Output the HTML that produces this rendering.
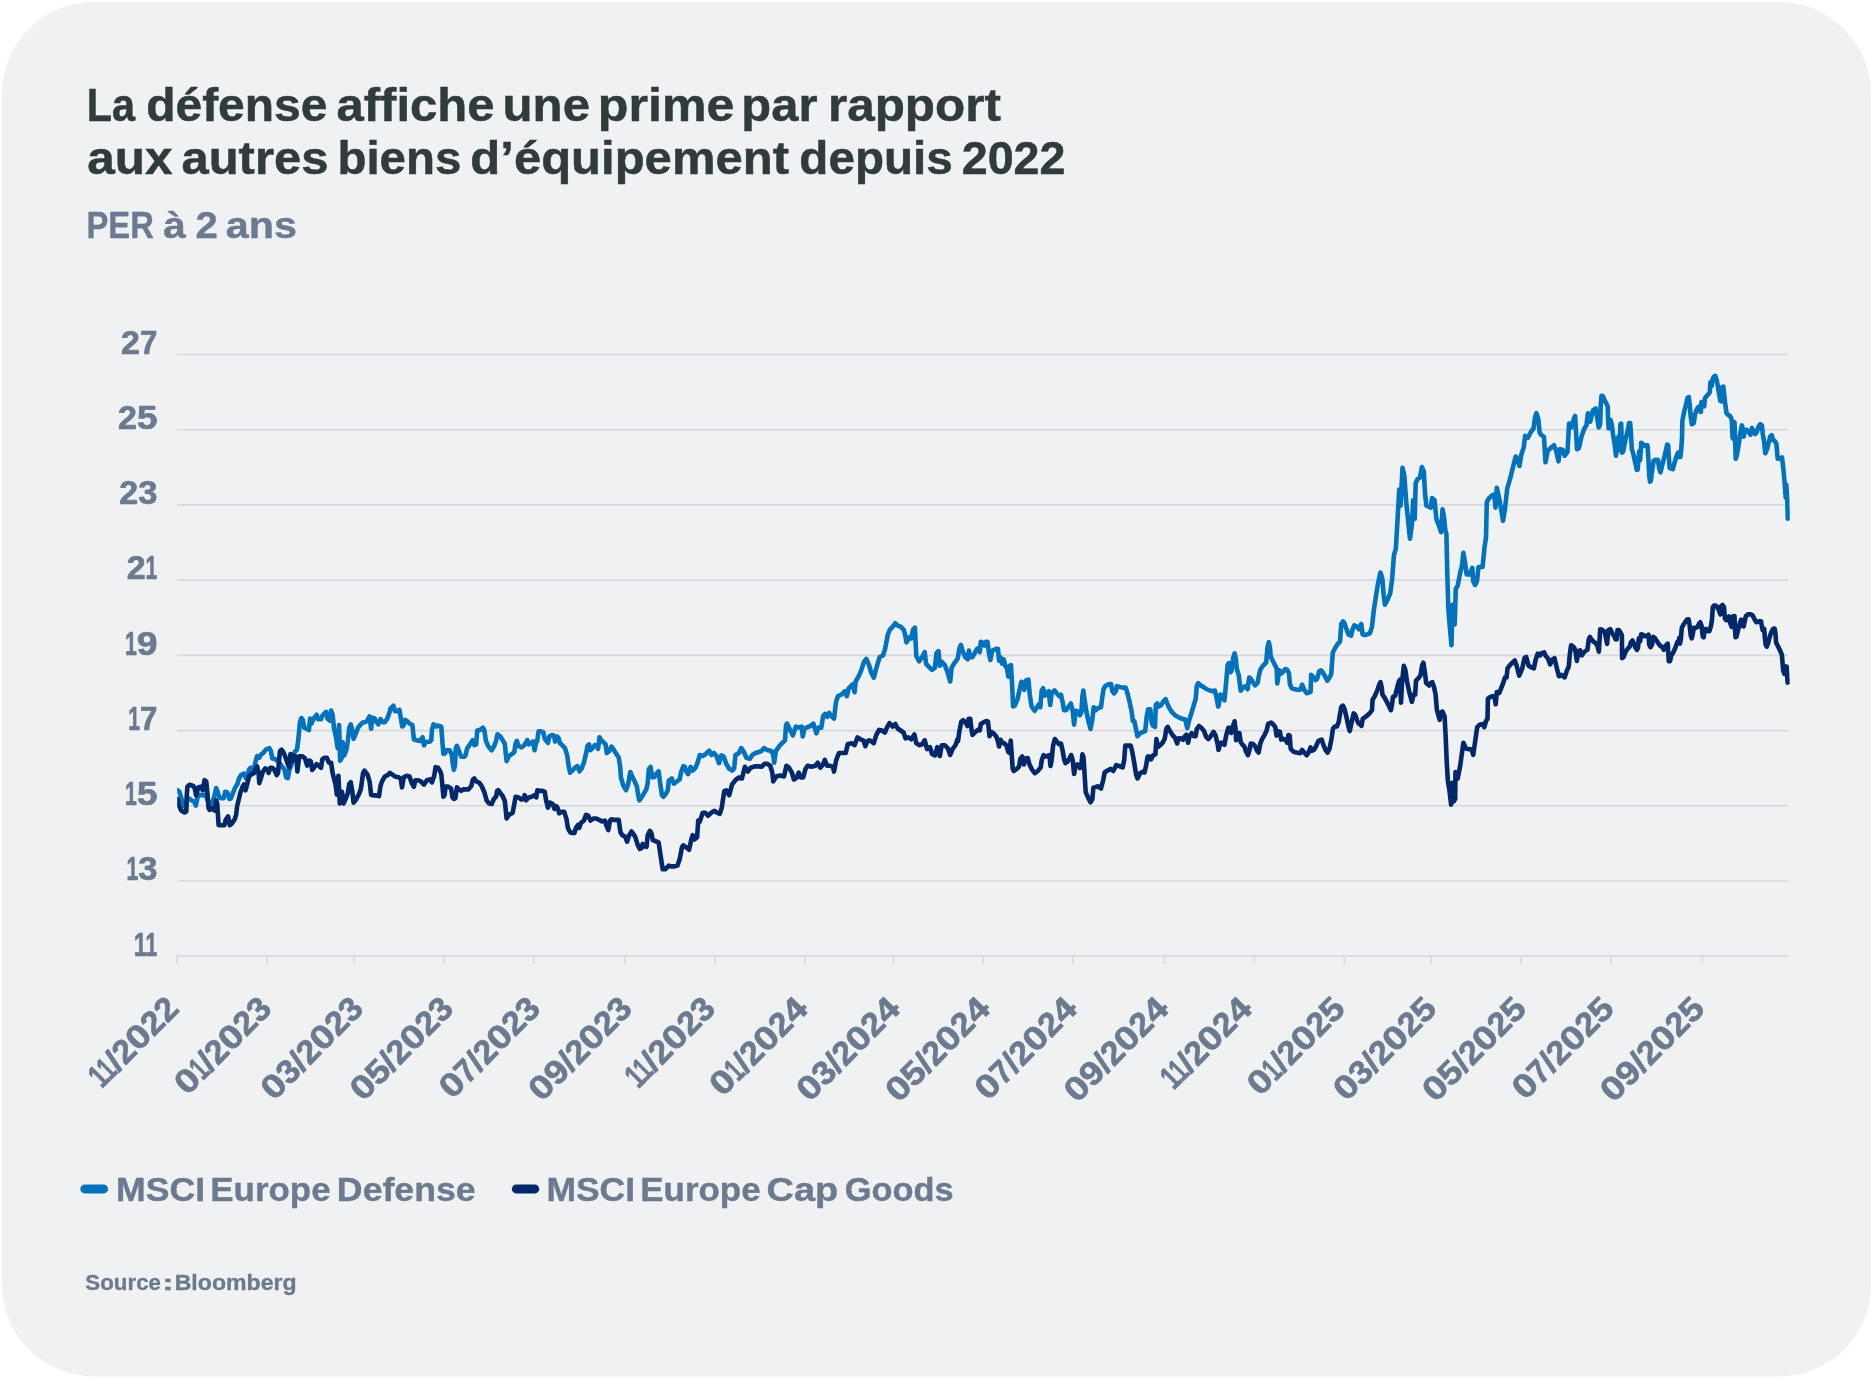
<!DOCTYPE html>
<html lang="fr"><head><meta charset="utf-8"><title>La défense affiche une prime</title>
<style>
html,body{margin:0;padding:0;background:#fff;}
body{width:1871px;height:1378px;overflow:hidden;font-family:"Liberation Sans",sans-serif;}
svg{display:block;will-change:transform;}
text{font-family:"Liberation Sans",sans-serif;font-weight:bold;}
</style></head><body>
<svg width="1871" height="1378" viewBox="0 0 1871 1378">
<rect x="2" y="2" width="1869" height="1374.6" rx="92" ry="92" fill="#f0f1f3"/>
<g fill="#2f3b3c" stroke="#2f3b3c" stroke-width="0.5">
<text y="121.4" font-size="47" ><tspan x="86.67" textLength="48.32" lengthAdjust="spacingAndGlyphs">La</tspan> <tspan x="146.16" textLength="181.30" lengthAdjust="spacingAndGlyphs">défense</tspan> <tspan x="336.54" textLength="158.01" lengthAdjust="spacingAndGlyphs">affiche</tspan> <tspan x="502.56" textLength="87.47" lengthAdjust="spacingAndGlyphs">une</tspan> <tspan x="597.89" textLength="136.50" lengthAdjust="spacingAndGlyphs">prime</tspan> <tspan x="741.37" textLength="76.09" lengthAdjust="spacingAndGlyphs">par</tspan> <tspan x="827.94" textLength="172.89" lengthAdjust="spacingAndGlyphs">rapport</tspan></text>
<text y="174.4" font-size="47" ><tspan x="87.23" textLength="85.38" lengthAdjust="spacingAndGlyphs">aux</tspan> <tspan x="181.55" textLength="146.80" lengthAdjust="spacingAndGlyphs">autres</tspan> <tspan x="337.47" textLength="123.90" lengthAdjust="spacingAndGlyphs">biens</tspan> <tspan x="470.32" textLength="318.73" lengthAdjust="spacingAndGlyphs">d’équipement</tspan> <tspan x="799.38" textLength="153.31" lengthAdjust="spacingAndGlyphs">depuis</tspan> <tspan x="961.71" textLength="103.83" lengthAdjust="spacingAndGlyphs">2022</tspan></text>
</g>
<text y="237.5" font-size="36" fill="#6b7a8e" stroke="#6b7a8e" stroke-width="0.4"><tspan x="86.52" textLength="67.34" lengthAdjust="spacingAndGlyphs">PER</tspan> <tspan x="163.38" textLength="22.62" lengthAdjust="spacingAndGlyphs">à</tspan> <tspan x="195.56" textLength="22.32" lengthAdjust="spacingAndGlyphs">2</tspan> <tspan x="225.85" textLength="71.19" lengthAdjust="spacingAndGlyphs">ans</tspan></text>
<g stroke="#d7d8db" stroke-width="1.6" fill="none">
<path d="M177.2 354.5H1788.0"/>
<path d="M177.2 429.7H1788.0"/>
<path d="M177.2 504.9H1788.0"/>
<path d="M177.2 580.1H1788.0"/>
<path d="M177.2 655.4H1788.0"/>
<path d="M177.2 730.6H1788.0"/>
<path d="M177.2 805.8H1788.0"/>
<path d="M177.2 881.0H1788.0"/>
<path d="M176.4 956.3H1788.0"/>
<path d="M177.2 956.3V963.8"/>
<path d="M267.1 956.3V963.8"/>
<path d="M354.0 956.3V963.8"/>
<path d="M443.9 956.3V963.8"/>
<path d="M533.8 956.3V963.8"/>
<path d="M625.1 956.3V963.8"/>
<path d="M715.0 956.3V963.8"/>
<path d="M804.9 956.3V963.8"/>
<path d="M893.3 956.3V963.8"/>
<path d="M983.2 956.3V963.8"/>
<path d="M1073.1 956.3V963.8"/>
<path d="M1164.4 956.3V963.8"/>
<path d="M1254.3 956.3V963.8"/>
<path d="M1344.2 956.3V963.8"/>
<path d="M1431.1 956.3V963.8"/>
<path d="M1521.0 956.3V963.8"/>
<path d="M1610.9 956.3V963.8"/>
<path d="M1702.3 956.3V963.8"/>
</g>
<g fill="#6b7a8e" stroke="#6b7a8e" stroke-width="0.7" stroke-linejoin="round" font-size="33" text-anchor="end">
<text x="157.4" y="353.7"><tspan textLength="18.9" lengthAdjust="spacingAndGlyphs">2</tspan><tspan textLength="17.4" lengthAdjust="spacingAndGlyphs">7</tspan></text>
<text x="157.4" y="428.9"><tspan textLength="18.9" lengthAdjust="spacingAndGlyphs">2</tspan><tspan textLength="20.5" lengthAdjust="spacingAndGlyphs">5</tspan></text>
<text x="157.4" y="504.1"><tspan textLength="18.9" lengthAdjust="spacingAndGlyphs">2</tspan><tspan textLength="19.2" lengthAdjust="spacingAndGlyphs">3</tspan></text>
<text x="157.4" y="579.3"><tspan textLength="18.9" lengthAdjust="spacingAndGlyphs">2</tspan><tspan textLength="11.8" lengthAdjust="spacingAndGlyphs">1</tspan></text>
<text x="157.4" y="654.6"><tspan textLength="11.8" lengthAdjust="spacingAndGlyphs">1</tspan><tspan textLength="20.7" lengthAdjust="spacingAndGlyphs">9</tspan></text>
<text x="157.4" y="729.8"><tspan textLength="11.8" lengthAdjust="spacingAndGlyphs">1</tspan><tspan textLength="17.4" lengthAdjust="spacingAndGlyphs">7</tspan></text>
<text x="157.4" y="805.0"><tspan textLength="11.8" lengthAdjust="spacingAndGlyphs">1</tspan><tspan textLength="20.5" lengthAdjust="spacingAndGlyphs">5</tspan></text>
<text x="157.4" y="880.2"><tspan textLength="11.8" lengthAdjust="spacingAndGlyphs">1</tspan><tspan textLength="19.2" lengthAdjust="spacingAndGlyphs">3</tspan></text>
<text x="157.4" y="955.5"><tspan textLength="11.8" lengthAdjust="spacingAndGlyphs">1</tspan><tspan textLength="11.8" lengthAdjust="spacingAndGlyphs">1</tspan></text>
</g>
<g fill="#6b7a8e" stroke="#6b7a8e" stroke-width="0.7" stroke-linejoin="round" font-size="33" text-anchor="end">
<text transform="translate(180.5 1010.4) rotate(-45)" x="0" y="0"><tspan textLength="11.8" lengthAdjust="spacingAndGlyphs">1</tspan><tspan textLength="11.8" lengthAdjust="spacingAndGlyphs">1</tspan><tspan textLength="9.5" lengthAdjust="spacingAndGlyphs">/</tspan><tspan textLength="18.9" lengthAdjust="spacingAndGlyphs">2</tspan><tspan textLength="21.5" lengthAdjust="spacingAndGlyphs">0</tspan><tspan textLength="18.9" lengthAdjust="spacingAndGlyphs">2</tspan><tspan textLength="18.9" lengthAdjust="spacingAndGlyphs">2</tspan></text>
<text transform="translate(273.3 1010.4) rotate(-45)" x="0" y="0"><tspan textLength="21.5" lengthAdjust="spacingAndGlyphs">0</tspan><tspan textLength="11.8" lengthAdjust="spacingAndGlyphs">1</tspan><tspan textLength="9.5" lengthAdjust="spacingAndGlyphs">/</tspan><tspan textLength="18.9" lengthAdjust="spacingAndGlyphs">2</tspan><tspan textLength="21.5" lengthAdjust="spacingAndGlyphs">0</tspan><tspan textLength="18.9" lengthAdjust="spacingAndGlyphs">2</tspan><tspan textLength="19.2" lengthAdjust="spacingAndGlyphs">3</tspan></text>
<text transform="translate(365.0 1010.4) rotate(-45)" x="0" y="0"><tspan textLength="21.5" lengthAdjust="spacingAndGlyphs">0</tspan><tspan textLength="19.2" lengthAdjust="spacingAndGlyphs">3</tspan><tspan textLength="9.5" lengthAdjust="spacingAndGlyphs">/</tspan><tspan textLength="18.9" lengthAdjust="spacingAndGlyphs">2</tspan><tspan textLength="21.5" lengthAdjust="spacingAndGlyphs">0</tspan><tspan textLength="18.9" lengthAdjust="spacingAndGlyphs">2</tspan><tspan textLength="19.2" lengthAdjust="spacingAndGlyphs">3</tspan></text>
<text transform="translate(455.1 1010.4) rotate(-45)" x="0" y="0"><tspan textLength="21.5" lengthAdjust="spacingAndGlyphs">0</tspan><tspan textLength="20.5" lengthAdjust="spacingAndGlyphs">5</tspan><tspan textLength="9.5" lengthAdjust="spacingAndGlyphs">/</tspan><tspan textLength="18.9" lengthAdjust="spacingAndGlyphs">2</tspan><tspan textLength="21.5" lengthAdjust="spacingAndGlyphs">0</tspan><tspan textLength="18.9" lengthAdjust="spacingAndGlyphs">2</tspan><tspan textLength="19.2" lengthAdjust="spacingAndGlyphs">3</tspan></text>
<text transform="translate(542.0 1010.4) rotate(-45)" x="0" y="0"><tspan textLength="21.5" lengthAdjust="spacingAndGlyphs">0</tspan><tspan textLength="17.4" lengthAdjust="spacingAndGlyphs">7</tspan><tspan textLength="9.5" lengthAdjust="spacingAndGlyphs">/</tspan><tspan textLength="18.9" lengthAdjust="spacingAndGlyphs">2</tspan><tspan textLength="21.5" lengthAdjust="spacingAndGlyphs">0</tspan><tspan textLength="18.9" lengthAdjust="spacingAndGlyphs">2</tspan><tspan textLength="19.2" lengthAdjust="spacingAndGlyphs">3</tspan></text>
<text transform="translate(633.9 1010.4) rotate(-45)" x="0" y="0"><tspan textLength="21.5" lengthAdjust="spacingAndGlyphs">0</tspan><tspan textLength="20.7" lengthAdjust="spacingAndGlyphs">9</tspan><tspan textLength="9.5" lengthAdjust="spacingAndGlyphs">/</tspan><tspan textLength="18.9" lengthAdjust="spacingAndGlyphs">2</tspan><tspan textLength="21.5" lengthAdjust="spacingAndGlyphs">0</tspan><tspan textLength="18.9" lengthAdjust="spacingAndGlyphs">2</tspan><tspan textLength="19.2" lengthAdjust="spacingAndGlyphs">3</tspan></text>
<text transform="translate(717.1 1010.4) rotate(-45)" x="0" y="0"><tspan textLength="11.8" lengthAdjust="spacingAndGlyphs">1</tspan><tspan textLength="11.8" lengthAdjust="spacingAndGlyphs">1</tspan><tspan textLength="9.5" lengthAdjust="spacingAndGlyphs">/</tspan><tspan textLength="18.9" lengthAdjust="spacingAndGlyphs">2</tspan><tspan textLength="21.5" lengthAdjust="spacingAndGlyphs">0</tspan><tspan textLength="18.9" lengthAdjust="spacingAndGlyphs">2</tspan><tspan textLength="19.2" lengthAdjust="spacingAndGlyphs">3</tspan></text>
<text transform="translate(809.9 1010.4) rotate(-45)" x="0" y="0"><tspan textLength="21.5" lengthAdjust="spacingAndGlyphs">0</tspan><tspan textLength="11.8" lengthAdjust="spacingAndGlyphs">1</tspan><tspan textLength="9.5" lengthAdjust="spacingAndGlyphs">/</tspan><tspan textLength="18.9" lengthAdjust="spacingAndGlyphs">2</tspan><tspan textLength="21.5" lengthAdjust="spacingAndGlyphs">0</tspan><tspan textLength="18.9" lengthAdjust="spacingAndGlyphs">2</tspan><tspan textLength="21.0" lengthAdjust="spacingAndGlyphs">4</tspan></text>
<text transform="translate(902.1 1010.4) rotate(-45)" x="0" y="0"><tspan textLength="21.5" lengthAdjust="spacingAndGlyphs">0</tspan><tspan textLength="19.2" lengthAdjust="spacingAndGlyphs">3</tspan><tspan textLength="9.5" lengthAdjust="spacingAndGlyphs">/</tspan><tspan textLength="18.9" lengthAdjust="spacingAndGlyphs">2</tspan><tspan textLength="21.5" lengthAdjust="spacingAndGlyphs">0</tspan><tspan textLength="18.9" lengthAdjust="spacingAndGlyphs">2</tspan><tspan textLength="21.0" lengthAdjust="spacingAndGlyphs">4</tspan></text>
<text transform="translate(992.0 1010.4) rotate(-45)" x="0" y="0"><tspan textLength="21.5" lengthAdjust="spacingAndGlyphs">0</tspan><tspan textLength="20.5" lengthAdjust="spacingAndGlyphs">5</tspan><tspan textLength="9.5" lengthAdjust="spacingAndGlyphs">/</tspan><tspan textLength="18.9" lengthAdjust="spacingAndGlyphs">2</tspan><tspan textLength="21.5" lengthAdjust="spacingAndGlyphs">0</tspan><tspan textLength="18.9" lengthAdjust="spacingAndGlyphs">2</tspan><tspan textLength="21.0" lengthAdjust="spacingAndGlyphs">4</tspan></text>
<text transform="translate(1079.1 1010.4) rotate(-45)" x="0" y="0"><tspan textLength="21.5" lengthAdjust="spacingAndGlyphs">0</tspan><tspan textLength="17.4" lengthAdjust="spacingAndGlyphs">7</tspan><tspan textLength="9.5" lengthAdjust="spacingAndGlyphs">/</tspan><tspan textLength="18.9" lengthAdjust="spacingAndGlyphs">2</tspan><tspan textLength="21.5" lengthAdjust="spacingAndGlyphs">0</tspan><tspan textLength="18.9" lengthAdjust="spacingAndGlyphs">2</tspan><tspan textLength="21.0" lengthAdjust="spacingAndGlyphs">4</tspan></text>
<text transform="translate(1170.5 1010.4) rotate(-45)" x="0" y="0"><tspan textLength="21.5" lengthAdjust="spacingAndGlyphs">0</tspan><tspan textLength="20.7" lengthAdjust="spacingAndGlyphs">9</tspan><tspan textLength="9.5" lengthAdjust="spacingAndGlyphs">/</tspan><tspan textLength="18.9" lengthAdjust="spacingAndGlyphs">2</tspan><tspan textLength="21.5" lengthAdjust="spacingAndGlyphs">0</tspan><tspan textLength="18.9" lengthAdjust="spacingAndGlyphs">2</tspan><tspan textLength="21.0" lengthAdjust="spacingAndGlyphs">4</tspan></text>
<text transform="translate(1254.0 1010.4) rotate(-45)" x="0" y="0"><tspan textLength="11.8" lengthAdjust="spacingAndGlyphs">1</tspan><tspan textLength="11.8" lengthAdjust="spacingAndGlyphs">1</tspan><tspan textLength="9.5" lengthAdjust="spacingAndGlyphs">/</tspan><tspan textLength="18.9" lengthAdjust="spacingAndGlyphs">2</tspan><tspan textLength="21.5" lengthAdjust="spacingAndGlyphs">0</tspan><tspan textLength="18.9" lengthAdjust="spacingAndGlyphs">2</tspan><tspan textLength="21.0" lengthAdjust="spacingAndGlyphs">4</tspan></text>
<text transform="translate(1347.0 1010.4) rotate(-45)" x="0" y="0"><tspan textLength="21.5" lengthAdjust="spacingAndGlyphs">0</tspan><tspan textLength="11.8" lengthAdjust="spacingAndGlyphs">1</tspan><tspan textLength="9.5" lengthAdjust="spacingAndGlyphs">/</tspan><tspan textLength="18.9" lengthAdjust="spacingAndGlyphs">2</tspan><tspan textLength="21.5" lengthAdjust="spacingAndGlyphs">0</tspan><tspan textLength="18.9" lengthAdjust="spacingAndGlyphs">2</tspan><tspan textLength="20.5" lengthAdjust="spacingAndGlyphs">5</tspan></text>
<text transform="translate(1438.5 1010.4) rotate(-45)" x="0" y="0"><tspan textLength="21.5" lengthAdjust="spacingAndGlyphs">0</tspan><tspan textLength="19.2" lengthAdjust="spacingAndGlyphs">3</tspan><tspan textLength="9.5" lengthAdjust="spacingAndGlyphs">/</tspan><tspan textLength="18.9" lengthAdjust="spacingAndGlyphs">2</tspan><tspan textLength="21.5" lengthAdjust="spacingAndGlyphs">0</tspan><tspan textLength="18.9" lengthAdjust="spacingAndGlyphs">2</tspan><tspan textLength="20.5" lengthAdjust="spacingAndGlyphs">5</tspan></text>
<text transform="translate(1528.3 1010.4) rotate(-45)" x="0" y="0"><tspan textLength="21.5" lengthAdjust="spacingAndGlyphs">0</tspan><tspan textLength="20.5" lengthAdjust="spacingAndGlyphs">5</tspan><tspan textLength="9.5" lengthAdjust="spacingAndGlyphs">/</tspan><tspan textLength="18.9" lengthAdjust="spacingAndGlyphs">2</tspan><tspan textLength="21.5" lengthAdjust="spacingAndGlyphs">0</tspan><tspan textLength="18.9" lengthAdjust="spacingAndGlyphs">2</tspan><tspan textLength="20.5" lengthAdjust="spacingAndGlyphs">5</tspan></text>
<text transform="translate(1616.0 1010.4) rotate(-45)" x="0" y="0"><tspan textLength="21.5" lengthAdjust="spacingAndGlyphs">0</tspan><tspan textLength="17.4" lengthAdjust="spacingAndGlyphs">7</tspan><tspan textLength="9.5" lengthAdjust="spacingAndGlyphs">/</tspan><tspan textLength="18.9" lengthAdjust="spacingAndGlyphs">2</tspan><tspan textLength="21.5" lengthAdjust="spacingAndGlyphs">0</tspan><tspan textLength="18.9" lengthAdjust="spacingAndGlyphs">2</tspan><tspan textLength="20.5" lengthAdjust="spacingAndGlyphs">5</tspan></text>
<text transform="translate(1706.4 1010.4) rotate(-45)" x="0" y="0"><tspan textLength="21.5" lengthAdjust="spacingAndGlyphs">0</tspan><tspan textLength="20.7" lengthAdjust="spacingAndGlyphs">9</tspan><tspan textLength="9.5" lengthAdjust="spacingAndGlyphs">/</tspan><tspan textLength="18.9" lengthAdjust="spacingAndGlyphs">2</tspan><tspan textLength="21.5" lengthAdjust="spacingAndGlyphs">0</tspan><tspan textLength="18.9" lengthAdjust="spacingAndGlyphs">2</tspan><tspan textLength="20.5" lengthAdjust="spacingAndGlyphs">5</tspan></text>
</g>
<defs><clipPath id="plot"><rect x="177.2" y="330" width="1612.6" height="600"/></clipPath></defs>
<path d="M177.6 790.3 L179.4 791.8 L181.6 799.0 L183.8 806.3 L186.0 806.3 L187.1 799.0 L188.9 798.3 L191.8 800.5 L193.9 801.2 L195.8 805.6 L197.6 797.6 L199.0 794.7 L203.4 795.4 L205.6 794.7 L207.7 800.5 L211.4 803.4 L212.8 801.2 L214.3 796.1 L216.2 788.1 L217.9 792.5 L219.3 797.6 L221.5 798.3 L223.7 798.3 L225.2 791.8 L227.3 792.5 L229.5 799.0 L231.0 798.3 L233.1 792.5 L235.3 787.4 L237.5 783.8 L238.9 778.7 L241.1 775.1 L244.0 773.6 L246.2 778.7 L247.7 775.1 L249.1 769.3 L250.6 767.8 L252.7 770.7 L254.2 767.8 L255.6 761.3 L257.1 756.2 L259.3 757.7 L260.7 754.8 L263.6 752.6 L265.8 749.7 L269.4 748.2 L270.9 751.1 L272.3 758.4 L275.2 759.1 L278.1 761.3 L280.3 764.2 L282.5 767.1 L284.7 770.0 L286.1 777.3 L287.9 778.0 L289.3 770.0 L291.2 765.6 L293.4 756.9 L294.8 751.9 L297.0 749.7 L298.5 738.1 L299.9 722.1 L301.4 718.0 L302.8 719.9 L304.3 727.9 L306.4 728.6 L308.9 730.1 L310.1 718.5 L311.5 723.5 L313.7 718.5 L316.6 714.8 L318.1 719.2 L321.0 719.2 L322.4 715.6 L326.1 711.9 L327.5 718.5 L329.7 720.6 L331.1 710.5 L332.6 714.8 L334.0 727.9 L336.2 738.1 L337.7 748.2 L339.1 725.0 L340.1 760.6 L341.6 758.4 L342.7 742.4 L344.2 755.5 L346.4 749.7 L347.8 741.0 L349.3 727.9 L350.7 724.3 L352.2 729.4 L353.6 738.8 L355.8 733.7 L358.0 727.9 L360.2 725.0 L362.3 722.8 L365.2 722.1 L367.4 720.6 L369.6 716.3 L371.1 728.6 L372.5 717.7 L374.7 718.5 L376.1 721.4 L378.3 724.3 L380.5 719.2 L382.7 722.1 L384.8 722.1 L387.0 719.2 L389.2 713.4 L390.6 708.3 L393.5 705.8 L395.0 711.2 L397.2 711.2 L399.4 709.8 L400.8 717.7 L402.2 726.5 L403.7 725.0 L405.2 719.9 L407.3 721.4 L409.5 723.5 L412.4 725.0 L413.9 739.5 L416.8 740.2 L419.7 741.0 L422.6 737.3 L424.0 745.3 L426.2 741.7 L429.8 741.7 L431.3 740.2 L432.0 729.4 L433.5 724.3 L436.4 726.5 L437.3 725.6 L440.2 726.3 L441.3 727.0 L442.3 740.8 L443.4 753.9 L445.2 753.1 L446.3 750.2 L449.6 750.2 L451.8 754.6 L452.8 764.0 L453.9 769.8 L455.0 765.5 L455.8 748.1 L456.9 745.9 L459.0 751.0 L461.2 756.8 L464.1 756.8 L465.6 755.3 L467.0 748.8 L469.9 744.4 L472.8 740.1 L474.3 745.2 L476.2 744.4 L477.2 730.6 L480.1 729.9 L483.0 727.7 L484.4 730.6 L485.9 740.8 L488.1 745.9 L491.7 750.2 L493.9 746.6 L496.1 740.8 L497.5 734.3 L500.4 736.5 L502.6 740.1 L504.8 743.7 L505.8 753.9 L506.6 761.1 L509.1 756.0 L512.0 753.9 L514.2 752.4 L515.6 743.7 L516.8 740.8 L518.5 745.9 L521.5 747.3 L523.6 745.9 L525.8 743.0 L527.3 740.1 L528.7 744.4 L530.9 743.0 L533.1 741.5 L534.5 750.2 L536.0 743.0 L537.1 741.5 L538.6 731.4 L541.0 731.4 L543.2 732.1 L544.7 738.6 L547.9 743.0 L549.3 736.5 L551.9 735.0 L554.1 735.7 L555.1 741.5 L557.0 736.5 L558.5 737.9 L559.9 743.0 L562.1 745.2 L565.0 748.1 L567.2 755.3 L568.6 765.5 L570.1 772.7 L573.0 769.8 L575.2 767.7 L577.3 766.2 L579.5 771.3 L581.7 768.4 L583.9 762.6 L586.0 753.9 L587.5 745.9 L589.0 744.4 L590.4 750.2 L592.6 748.1 L594.8 745.2 L596.9 745.9 L598.1 748.8 L599.5 737.2 L601.3 740.1 L603.5 742.3 L605.6 744.4 L606.8 753.1 L609.3 751.0 L611.5 746.6 L613.6 749.5 L615.8 753.1 L618.7 757.5 L620.2 766.9 L620.9 777.1 L623.1 785.1 L626.0 790.2 L628.1 784.4 L630.3 772.0 L632.5 777.1 L634.7 781.5 L636.9 786.5 L638.3 796.0 L639.3 800.3 L641.9 796.7 L644.1 793.1 L646.3 789.4 L647.7 782.9 L648.9 769.1 L650.6 766.9 L652.1 777.1 L654.3 777.1 L656.5 773.5 L658.6 771.3 L660.1 782.9 L662.0 795.2 L663.4 796.7 L665.9 793.8 L667.8 790.2 L668.8 780.7 L671.7 778.5 L673.9 783.6 L676.8 781.5 L679.7 779.3 L681.1 772.0 L683.3 766.2 L684.8 766.9 L686.2 771.3 L688.1 774.2 L690.6 766.9 L692.7 770.6 L695.6 767.7 L697.8 761.9 L699.8 755.0 L702.7 756.0 L705.7 754.0 L709.2 750.7 L711.5 755.0 L713.9 753.0 L716.5 756.0 L719.0 763.2 L721.4 755.4 L723.7 756.6 L726.2 763.8 L729.2 768.7 L732.1 770.7 L734.1 768.7 L735.5 755.0 L739.0 753.0 L741.3 748.1 L743.9 752.0 L746.4 757.9 L749.8 758.9 L752.3 755.0 L755.6 753.0 L758.6 752.0 L761.5 751.1 L764.1 748.1 L767.4 750.1 L771.3 751.1 L773.3 755.0 L774.2 762.8 L775.8 751.1 L780.1 745.2 L785.0 740.3 L786.0 725.6 L787.0 723.6 L789.9 729.5 L792.9 735.4 L795.8 726.6 L798.7 727.6 L801.7 726.6 L802.7 736.4 L804.6 728.5 L807.6 727.2 L810.5 726.0 L813.4 723.6 L816.4 733.4 L818.3 727.6 L821.3 727.6 L823.2 715.8 L825.2 713.9 L827.2 716.8 L829.1 712.9 L831.1 715.8 L834.0 718.7 L836.0 702.1 L837.9 696.2 L841.9 694.2 L844.8 691.3 L846.8 696.2 L848.7 688.4 L852.6 684.5 L854.6 692.3 L855.6 681.5 L858.5 676.6 L861.4 669.8 L864.0 661.9 L866.3 659.0 L869.3 665.8 L871.2 672.7 L873.8 677.6 L876.1 668.8 L879.7 657.0 L883.0 655.5 L885.0 649.2 L887.9 634.5 L889.9 629.6 L892.8 626.6 L895.3 623.3 L897.7 625.7 L900.6 626.6 L903.6 629.6 L905.1 634.5 L906.5 642.3 L909.5 637.4 L911.4 638.4 L913.0 629.6 L914.9 627.6 L916.3 656.0 L919.2 661.3 L922.2 657.0 L924.7 652.1 L926.1 663.9 L929.0 666.8 L932.0 669.8 L934.9 667.8 L936.5 653.1 L938.5 651.1 L939.8 665.8 L941.8 661.9 L944.7 664.9 L947.7 672.7 L950.2 681.5 L951.6 667.8 L954.5 662.9 L957.5 659.0 L958.0 657.1 L959.4 648.4 L960.9 644.8 L962.8 651.3 L965.2 657.1 L967.7 659.3 L968.9 650.6 L970.3 657.1 L972.5 657.1 L975.0 652.7 L976.9 649.1 L978.3 648.1 L979.8 652.0 L980.8 641.9 L982.7 642.6 L984.5 645.5 L986.0 641.9 L987.5 641.9 L988.9 652.7 L990.4 660.0 L992.1 650.6 L994.3 649.8 L996.2 648.7 L997.9 648.7 L999.1 660.7 L1000.5 657.1 L1002.0 663.6 L1003.7 659.3 L1005.2 665.8 L1006.9 668.0 L1008.4 676.7 L1009.5 665.8 L1011.0 665.1 L1012.1 684.7 L1013.1 706.5 L1014.6 705.7 L1017.5 699.2 L1019.4 690.5 L1021.4 681.8 L1022.9 682.5 L1024.3 689.8 L1026.2 680.3 L1028.4 679.6 L1029.8 694.8 L1031.6 706.5 L1034.5 710.8 L1037.1 707.2 L1038.8 704.3 L1040.3 707.2 L1041.7 690.5 L1043.2 688.3 L1044.6 695.6 L1046.5 694.1 L1048.7 691.2 L1050.2 705.0 L1051.6 693.4 L1054.5 690.5 L1057.4 694.1 L1059.6 696.3 L1061.0 694.8 L1062.9 703.5 L1064.0 710.1 L1066.1 710.1 L1068.3 707.2 L1070.8 703.5 L1072.7 710.8 L1074.1 724.6 L1075.6 710.8 L1077.7 711.5 L1079.9 715.2 L1081.4 712.3 L1082.4 696.3 L1083.3 690.5 L1084.7 700.6 L1086.5 712.3 L1088.6 721.7 L1090.5 729.0 L1092.3 719.5 L1093.7 707.2 L1095.9 710.1 L1098.1 707.9 L1101.0 707.2 L1102.4 696.3 L1103.6 689.0 L1105.3 686.1 L1108.2 684.4 L1111.1 684.0 L1112.3 691.2 L1114.0 693.4 L1115.8 691.2 L1116.9 686.1 L1119.8 686.9 L1122.7 687.6 L1125.6 687.6 L1127.1 691.9 L1129.3 700.6 L1131.5 710.8 L1132.9 721.0 L1134.3 721.0 L1136.1 729.7 L1137.5 736.2 L1140.2 733.3 L1143.1 731.9 L1145.2 731.1 L1146.7 716.6 L1148.1 709.4 L1150.3 709.4 L1151.8 723.1 L1153.2 726.0 L1155.0 726.8 L1155.8 705.0 L1157.3 703.5 L1158.7 706.5 L1161.2 705.0 L1163.4 701.4 L1165.6 699.2 L1167.0 702.8 L1169.2 707.9 L1172.1 712.3 L1175.0 715.2 L1178.6 717.3 L1182.2 718.8 L1185.2 719.5 L1187.3 728.2 L1188.8 721.7 L1191.0 714.4 L1193.9 705.0 L1195.6 699.2 L1196.8 686.1 L1198.2 683.2 L1200.4 685.4 L1203.3 686.9 L1206.2 689.0 L1209.8 690.5 L1212.7 691.2 L1214.9 690.5 L1216.4 697.0 L1218.2 706.5 L1218.5 706.2 L1220.5 694.5 L1222.4 695.8 L1224.4 700.4 L1225.9 685.4 L1227.6 665.1 L1228.9 663.1 L1230.2 672.3 L1231.5 671.0 L1233.2 657.9 L1234.6 653.4 L1235.9 659.2 L1236.8 669.0 L1238.7 674.9 L1240.7 690.6 L1243.3 687.3 L1245.9 686.0 L1247.6 689.3 L1249.2 677.5 L1251.2 679.5 L1253.1 682.7 L1255.1 685.4 L1257.7 682.7 L1259.0 674.9 L1260.3 669.7 L1262.9 665.8 L1266.2 662.5 L1267.5 647.5 L1268.8 642.2 L1270.1 648.8 L1270.7 656.6 L1273.3 661.8 L1276.6 668.4 L1277.3 683.4 L1279.2 670.3 L1281.2 673.6 L1283.2 671.6 L1285.1 669.0 L1287.1 669.7 L1289.0 673.6 L1289.9 684.0 L1291.6 688.0 L1294.9 689.3 L1298.8 689.9 L1300.8 689.3 L1302.1 684.7 L1304.3 689.9 L1306.7 693.2 L1310.6 691.9 L1311.2 674.9 L1313.2 676.9 L1315.5 680.1 L1317.1 678.8 L1319.1 671.6 L1320.8 670.3 L1322.3 671.6 L1325.0 676.2 L1327.3 680.8 L1329.1 678.2 L1331.2 674.2 L1332.8 652.7 L1335.4 647.5 L1338.0 643.6 L1340.0 641.6 L1341.3 624.0 L1343.0 621.4 L1344.5 623.3 L1346.5 629.2 L1348.5 634.4 L1351.1 635.7 L1352.6 629.2 L1354.3 625.3 L1357.0 626.6 L1358.9 629.2 L1361.3 624.0 L1362.6 634.4 L1364.8 635.1 L1367.4 634.4 L1370.0 633.1 L1372.0 626.6 L1373.9 609.6 L1375.9 596.5 L1377.9 584.0 L1380.4 572.6 L1382.3 578.3 L1383.6 594.3 L1384.9 604.7 L1387.4 600.0 L1390.2 593.4 L1392.1 579.2 L1394.0 554.7 L1395.8 549.1 L1397.7 517.0 L1399.2 489.6 L1400.6 505.7 L1402.5 467.9 L1404.3 475.5 L1406.2 501.9 L1408.1 520.8 L1410.0 538.7 L1411.9 524.5 L1413.2 500.0 L1414.7 518.9 L1415.7 483.0 L1417.5 479.2 L1420.0 477.4 L1421.9 467.0 L1423.8 471.7 L1425.1 494.3 L1426.4 505.7 L1428.9 506.6 L1430.8 507.6 L1432.1 498.1 L1434.5 500.0 L1436.4 518.9 L1439.2 526.4 L1441.1 532.1 L1442.5 509.4 L1444.0 517.0 L1445.3 530.2 L1446.4 534.0 L1447.2 569.8 L1448.3 607.5 L1449.6 624.5 L1451.5 645.3 L1452.5 604.7 L1454.7 624.5 L1455.8 588.7 L1457.7 585.9 L1460.0 573.6 L1461.9 566.0 L1463.4 552.8 L1465.3 564.1 L1466.6 574.5 L1469.4 574.5 L1472.3 567.9 L1473.2 581.1 L1475.1 584.9 L1477.0 581.1 L1478.5 567.0 L1480.8 567.0 L1482.6 567.0 L1484.5 547.2 L1486.0 537.7 L1486.8 501.9 L1489.2 498.1 L1492.1 495.3 L1494.3 494.3 L1495.5 507.6 L1496.8 487.7 L1498.7 496.2 L1501.5 511.3 L1503.0 520.8 L1504.9 509.4 L1507.2 488.7 L1510.0 479.2 L1512.8 467.9 L1515.7 456.6 L1518.1 460.4 L1519.4 466.0 L1521.3 454.7 L1523.8 447.2 L1525.1 435.9 L1527.9 437.7 L1530.8 432.1 L1533.6 428.3 L1535.1 417.0 L1536.4 413.2 L1538.3 418.9 L1539.6 432.1 L1541.1 434.9 L1544.0 436.8 L1545.5 462.3 L1547.7 450.9 L1550.6 448.1 L1554.0 445.3 L1556.2 450.9 L1558.5 461.3 L1560.0 449.1 L1562.8 450.0 L1564.7 455.7 L1567.5 451.9 L1569.1 423.6 L1571.3 427.4 L1574.2 417.9 L1575.1 416.0 L1577.0 449.1 L1578.9 448.1 L1581.7 435.9 L1584.5 428.3 L1586.4 425.5 L1587.9 413.2 L1590.2 421.7 L1593.0 410.4 L1595.8 408.5 L1598.7 427.4 L1600.2 424.2 L1600.7 405.7 L1601.5 395.8 L1602.7 396.1 L1604.3 399.5 L1606.2 403.2 L1607.7 406.3 L1608.1 419.3 L1608.6 428.5 L1610.5 419.9 L1611.7 424.2 L1613.0 434.1 L1614.8 445.2 L1616.0 455.7 L1617.3 443.9 L1618.5 436.6 L1619.5 450.1 L1620.4 424.2 L1621.2 423.6 L1622.0 452.6 L1623.2 451.4 L1624.7 443.9 L1626.5 435.3 L1628.1 429.1 L1629.0 423.0 L1630.2 423.0 L1631.1 436.6 L1631.8 448.9 L1633.3 453.8 L1635.2 462.5 L1636.8 469.9 L1637.6 469.9 L1638.5 460.0 L1639.2 451.4 L1640.1 460.0 L1641.3 442.7 L1642.6 443.9 L1643.8 445.8 L1645.9 445.2 L1647.5 445.2 L1648.4 458.8 L1649.3 476.0 L1650.0 481.6 L1650.8 481.0 L1652.4 468.6 L1653.7 460.6 L1656.1 459.7 L1658.0 460.0 L1659.2 468.6 L1660.5 472.3 L1662.3 464.9 L1664.2 457.5 L1666.0 450.1 L1667.2 444.6 L1668.1 445.2 L1668.8 456.3 L1669.7 468.0 L1671.5 468.6 L1672.8 469.2 L1674.6 462.5 L1676.5 456.3 L1678.0 452.6 L1679.2 456.9 L1680.4 456.9 L1681.2 450.1 L1682.0 437.8 L1682.4 420.5 L1683.9 413.1 L1685.7 405.7 L1687.6 397.7 L1688.8 397.1 L1689.8 405.7 L1690.7 416.8 L1691.9 424.2 L1693.8 423.0 L1695.0 414.4 L1696.8 409.4 L1698.5 406.9 L1699.7 410.6 L1700.9 411.9 L1701.4 402.0 L1703.0 405.7 L1704.2 406.3 L1704.9 398.3 L1706.7 395.8 L1708.6 394.0 L1709.8 392.1 L1710.4 382.3 L1711.7 386.0 L1712.5 379.8 L1713.7 376.7 L1715.3 375.9 L1716.6 379.8 L1717.8 386.0 L1719.0 393.4 L1720.3 400.8 L1721.5 401.4 L1722.1 387.2 L1723.4 386.6 L1724.3 395.8 L1725.6 406.9 L1726.5 413.1 L1728.3 415.0 L1730.2 416.2 L1731.8 419.9 L1732.6 437.8 L1733.8 439.0 L1734.5 422.4 L1735.1 439.0 L1735.7 458.8 L1736.9 455.1 L1738.8 443.9 L1740.6 431.6 L1741.9 425.4 L1742.9 430.4 L1743.7 436.6 L1745.0 429.8 L1746.8 429.8 L1748.7 432.2 L1750.5 434.7 L1752.0 427.9 L1753.6 431.6 L1755.2 434.1 L1756.7 432.2 L1758.5 426.7 L1760.4 424.2 L1761.9 425.4 L1762.8 434.1 L1764.1 441.5 L1765.3 453.2 L1767.2 448.9 L1769.0 441.5 L1770.2 436.6 L1771.7 435.3 L1773.3 440.2 L1775.2 441.5 L1776.4 443.9 L1777.7 458.8 L1779.5 458.8 L1782.0 457.5 L1783.2 467.4 L1784.4 479.7 L1785.7 497.6 L1786.3 484.7 L1787.3 500.7 L1787.8 518.6" fill="none" stroke="#0372bd" stroke-width="4.6" stroke-linejoin="round" stroke-linecap="round" clip-path="url(#plot)"/>
<path d="M177.6 799.0 L179.0 805.6 L181.3 810.6 L184.5 812.4 L186.3 811.4 L186.7 796.1 L187.4 786.7 L189.6 784.8 L193.2 786.0 L194.7 788.1 L196.1 795.4 L198.3 787.4 L201.2 786.7 L202.7 790.3 L204.6 780.2 L206.3 781.6 L207.4 793.2 L208.5 807.7 L209.5 809.9 L212.1 807.7 L213.6 809.9 L215.0 810.6 L216.2 800.5 L217.2 803.4 L218.6 825.2 L220.8 825.2 L224.4 825.2 L225.9 819.4 L228.1 816.5 L229.8 825.2 L231.7 823.7 L234.6 819.4 L236.1 815.0 L237.1 806.3 L238.5 800.5 L240.4 792.5 L242.6 786.7 L244.0 784.5 L245.5 790.3 L246.9 785.2 L249.1 776.5 L251.3 774.4 L254.2 772.9 L257.1 766.4 L258.6 772.9 L259.3 783.1 L260.7 778.7 L262.9 771.5 L265.1 768.5 L267.3 770.0 L268.7 772.9 L270.2 767.8 L272.3 767.8 L274.5 770.0 L276.7 775.1 L278.1 772.9 L279.2 758.4 L280.0 751.1 L281.5 749.7 L283.2 751.9 L285.4 756.9 L287.6 763.5 L289.0 767.1 L290.5 754.0 L291.9 761.3 L293.4 755.5 L296.3 756.9 L297.4 771.5 L299.2 756.2 L302.1 756.2 L305.0 758.4 L307.2 765.6 L309.4 760.6 L310.8 761.3 L312.3 770.0 L314.4 767.1 L316.6 764.2 L318.8 765.6 L321.0 767.8 L322.4 759.1 L324.6 757.7 L326.8 757.7 L328.9 762.7 L331.1 762.7 L332.6 772.9 L335.5 784.5 L336.9 794.7 L338.4 775.8 L339.8 803.4 L342.0 791.8 L343.5 803.4 L345.6 799.0 L347.8 793.2 L349.3 783.8 L350.7 782.3 L352.2 790.3 L353.6 802.7 L355.8 799.8 L358.7 794.7 L360.9 788.9 L363.1 772.9 L364.5 770.7 L367.4 774.4 L369.6 781.6 L371.1 794.7 L373.2 795.4 L376.1 795.4 L379.0 796.1 L380.5 786.0 L381.9 781.6 L384.8 776.5 L387.7 775.1 L389.9 772.9 L392.1 774.4 L395.0 776.5 L398.6 777.3 L400.8 778.7 L402.0 787.4 L403.7 777.3 L406.6 775.8 L409.5 776.5 L411.7 783.1 L413.9 786.7 L415.3 780.2 L418.2 780.2 L421.1 781.6 L424.0 784.5 L426.9 780.2 L429.8 779.4 L432.0 782.3 L434.2 775.8 L435.6 767.1 L437.8 768.5 L438.0 767.7 L440.2 771.3 L441.3 774.2 L442.3 784.4 L443.4 796.7 L444.5 795.2 L445.7 786.5 L448.1 786.5 L451.1 788.7 L452.5 797.4 L453.9 798.9 L455.4 798.1 L456.9 787.3 L459.0 789.4 L461.2 790.9 L463.4 789.4 L466.3 789.4 L468.5 789.4 L471.4 785.8 L472.8 780.0 L474.3 778.5 L476.4 781.5 L479.4 782.9 L481.5 785.8 L484.4 792.3 L486.6 800.3 L488.8 803.2 L491.7 804.0 L493.9 798.9 L496.1 796.7 L497.1 790.9 L498.2 790.2 L500.4 793.1 L502.6 796.0 L504.8 801.0 L505.8 810.5 L506.6 818.5 L509.1 814.8 L512.7 812.7 L514.2 804.7 L515.6 796.7 L518.5 797.4 L521.5 799.6 L523.6 798.9 L524.6 795.2 L526.1 800.3 L528.7 797.4 L531.6 796.7 L534.5 795.2 L536.3 797.4 L537.4 790.2 L539.6 790.9 L542.5 790.9 L544.7 791.6 L546.1 800.3 L547.9 807.6 L549.8 802.5 L552.7 804.0 L554.5 809.0 L556.3 806.1 L557.7 808.3 L559.2 813.4 L561.4 811.9 L564.3 811.9 L566.5 819.2 L567.9 827.9 L570.1 832.3 L572.3 833.0 L574.4 833.0 L575.9 827.9 L578.1 825.0 L579.2 827.9 L581.0 822.8 L583.9 820.6 L586.0 814.8 L588.2 815.6 L590.4 820.6 L593.3 818.5 L596.2 818.5 L599.1 819.9 L602.0 821.4 L604.9 820.6 L606.4 825.7 L608.3 830.1 L610.0 820.6 L611.5 819.2 L614.4 819.9 L616.5 819.9 L618.7 819.9 L620.5 832.3 L622.3 835.2 L625.2 836.6 L627.1 841.7 L628.9 835.9 L631.5 831.5 L633.2 833.7 L635.4 837.3 L637.6 844.6 L639.8 849.0 L641.6 848.2 L642.7 843.9 L644.5 846.0 L646.6 846.8 L647.7 835.2 L649.9 830.8 L651.4 833.0 L652.8 840.2 L655.0 841.0 L658.6 842.4 L660.8 856.9 L662.7 869.3 L665.2 869.3 L668.8 865.6 L671.0 866.4 L674.6 866.4 L677.5 865.6 L679.7 859.1 L681.9 847.5 L683.3 845.3 L685.5 846.8 L689.1 849.7 L691.3 839.5 L692.7 835.2 L694.5 839.5 L697.1 837.3 L698.2 820.6 L699.8 821.6 L702.7 812.8 L705.3 812.8 L708.0 815.7 L711.2 812.8 L714.5 810.8 L717.4 812.8 L719.8 813.8 L721.7 807.9 L724.3 791.2 L726.2 790.3 L729.2 795.2 L732.1 784.4 L736.0 779.5 L739.0 777.5 L741.9 778.5 L744.9 766.8 L747.8 771.6 L750.7 767.7 L754.7 766.4 L758.6 766.4 L761.5 766.8 L764.5 763.8 L767.4 763.8 L770.3 765.8 L772.3 772.6 L773.3 781.4 L776.2 776.5 L780.1 775.6 L784.0 776.5 L786.4 765.8 L789.0 767.7 L791.9 772.6 L793.9 779.5 L796.8 777.5 L798.7 772.6 L800.7 777.5 L803.2 777.5 L805.6 768.7 L807.6 765.8 L811.5 766.8 L815.4 765.8 L817.8 762.8 L820.3 767.7 L822.8 764.8 L824.8 759.9 L827.2 765.8 L830.1 765.8 L833.0 766.8 L834.0 771.6 L836.0 760.9 L838.9 753.0 L841.9 753.0 L845.8 753.0 L847.7 744.2 L851.6 743.2 L854.6 745.2 L857.5 737.4 L860.5 739.3 L863.4 740.3 L865.4 746.2 L867.3 741.3 L869.3 740.3 L871.2 741.3 L873.8 743.2 L876.1 735.4 L879.1 729.9 L882.0 730.5 L885.0 732.5 L886.9 727.6 L889.5 723.2 L892.8 726.6 L895.3 724.0 L897.7 728.5 L900.6 730.5 L903.6 732.5 L905.5 738.3 L908.5 737.4 L911.4 739.3 L914.4 734.4 L916.3 743.2 L919.2 745.2 L922.2 744.2 L924.7 740.3 L927.1 749.1 L930.0 747.2 L932.0 754.0 L934.9 755.4 L937.3 747.2 L939.8 756.0 L941.8 745.2 L944.7 745.2 L947.7 748.1 L950.2 755.0 L952.5 749.1 L955.5 745.2 L957.5 739.3 L958.0 741.3 L959.4 731.1 L961.3 721.7 L963.1 720.2 L966.0 723.1 L967.4 726.0 L968.6 718.8 L970.3 718.8 L971.5 729.7 L972.5 734.8 L975.4 731.9 L978.3 729.7 L979.8 730.4 L980.8 723.9 L983.4 722.4 L986.3 721.0 L988.0 721.7 L989.5 736.2 L991.4 731.9 L993.5 733.3 L996.5 736.9 L997.9 741.3 L999.1 746.4 L1000.5 739.8 L1002.3 742.7 L1004.4 743.5 L1006.6 745.6 L1008.1 751.5 L1009.5 752.9 L1010.7 740.6 L1011.7 754.4 L1012.7 768.9 L1013.9 771.0 L1016.8 768.9 L1019.0 766.7 L1020.4 758.7 L1022.3 756.5 L1024.0 764.5 L1025.5 758.7 L1027.7 758.0 L1029.5 764.5 L1032.0 769.6 L1034.9 773.2 L1037.8 771.0 L1040.7 767.4 L1041.7 760.2 L1043.6 755.1 L1045.8 756.5 L1047.5 755.8 L1049.4 755.1 L1050.5 766.0 L1051.6 760.2 L1053.1 745.6 L1054.8 739.1 L1056.7 741.3 L1058.9 744.2 L1061.0 743.5 L1062.5 750.0 L1064.0 758.7 L1065.4 763.1 L1067.6 761.6 L1069.3 758.7 L1071.2 755.1 L1072.7 760.2 L1074.1 774.0 L1075.6 765.2 L1077.7 764.5 L1079.9 768.1 L1081.4 765.2 L1082.4 754.4 L1083.5 757.3 L1084.7 776.1 L1085.7 792.1 L1087.9 797.2 L1090.5 802.3 L1092.3 799.4 L1093.4 787.7 L1095.9 787.0 L1098.1 786.3 L1101.0 788.5 L1103.1 780.5 L1104.6 772.5 L1106.8 771.0 L1110.4 768.9 L1113.3 771.0 L1116.2 765.2 L1119.1 766.0 L1122.7 767.4 L1124.2 760.2 L1125.3 745.6 L1127.8 745.6 L1130.7 745.6 L1132.2 751.5 L1134.3 763.1 L1136.1 774.7 L1137.5 778.3 L1140.2 773.2 L1142.3 771.8 L1144.5 772.5 L1146.0 766.0 L1147.7 756.5 L1149.6 756.5 L1151.0 759.4 L1153.2 755.1 L1155.4 754.4 L1156.4 739.1 L1157.9 747.1 L1160.5 744.9 L1162.7 742.7 L1164.8 738.4 L1166.3 729.0 L1167.7 726.8 L1169.9 731.1 L1172.8 735.5 L1175.0 737.7 L1177.2 743.5 L1178.6 738.4 L1180.8 738.4 L1183.0 739.8 L1184.4 736.9 L1186.3 734.8 L1188.1 742.7 L1189.5 736.2 L1191.7 733.3 L1193.9 736.2 L1195.6 736.2 L1196.8 729.0 L1199.0 726.0 L1201.8 728.2 L1204.0 731.1 L1206.2 736.9 L1208.4 739.1 L1211.3 735.5 L1213.5 731.9 L1215.6 735.5 L1217.8 744.9 L1218.5 750.0 L1220.5 742.8 L1222.4 742.8 L1224.4 744.8 L1226.3 735.0 L1228.3 727.8 L1229.8 727.8 L1231.2 733.0 L1232.9 726.5 L1234.6 721.3 L1235.5 728.5 L1236.1 740.2 L1237.4 733.7 L1239.4 733.0 L1240.7 742.2 L1242.7 744.8 L1244.6 746.8 L1245.9 751.3 L1247.9 755.2 L1249.5 750.0 L1250.8 743.5 L1253.1 744.1 L1255.1 746.1 L1257.0 750.7 L1258.6 752.6 L1260.3 743.5 L1262.2 738.9 L1264.9 734.3 L1266.8 729.8 L1268.1 723.9 L1271.1 722.6 L1273.3 724.5 L1275.3 727.1 L1276.6 735.6 L1277.9 731.1 L1279.9 731.7 L1281.2 739.6 L1283.2 738.9 L1285.8 740.2 L1287.3 742.8 L1288.4 735.0 L1289.7 735.6 L1290.7 748.7 L1293.0 751.3 L1296.2 752.6 L1300.1 753.3 L1302.1 750.0 L1304.3 752.6 L1306.7 755.2 L1308.6 752.6 L1310.6 747.4 L1312.2 750.7 L1313.8 750.0 L1315.8 746.8 L1318.4 740.9 L1321.7 739.6 L1323.6 745.4 L1325.6 750.0 L1327.6 752.6 L1329.5 748.7 L1331.5 738.9 L1333.0 728.5 L1334.8 726.5 L1337.0 726.5 L1338.7 721.9 L1340.0 714.1 L1341.3 706.9 L1343.0 705.6 L1344.5 708.9 L1346.5 717.4 L1348.5 726.5 L1349.8 731.1 L1351.7 721.9 L1353.7 713.4 L1355.2 714.8 L1357.0 720.0 L1358.3 723.2 L1360.2 724.5 L1361.5 725.9 L1362.8 718.7 L1364.8 717.4 L1367.4 715.4 L1370.0 712.8 L1372.0 710.2 L1372.6 699.7 L1374.6 696.5 L1377.2 690.6 L1379.2 684.7 L1380.5 682.1 L1381.8 688.0 L1382.4 694.5 L1385.0 698.4 L1387.7 703.6 L1390.9 710.2 L1392.2 703.6 L1392.9 697.1 L1395.2 695.8 L1397.4 686.7 L1398.9 681.4 L1400.0 679.8 L1401.0 702.7 L1402.1 681.4 L1403.8 665.9 L1405.4 670.0 L1407.0 681.4 L1409.5 692.9 L1411.9 701.9 L1413.6 694.5 L1415.2 694.5 L1416.0 680.6 L1418.5 678.2 L1420.6 674.9 L1422.2 665.1 L1423.4 662.7 L1425.0 673.3 L1426.2 683.1 L1429.1 685.5 L1430.7 683.1 L1432.3 682.2 L1434.0 687.1 L1435.6 694.5 L1436.9 710.0 L1439.7 719.8 L1440.8 712.5 L1442.5 711.6 L1444.6 716.5 L1445.7 737.0 L1446.7 761.5 L1447.9 781.0 L1449.5 790.8 L1451.1 804.7 L1452.3 782.7 L1453.6 801.5 L1455.2 799.0 L1455.5 772.1 L1457.7 778.6 L1460.1 766.3 L1461.7 754.9 L1463.4 742.7 L1465.8 748.4 L1469.1 749.2 L1471.5 749.2 L1473.2 754.9 L1475.1 741.9 L1477.2 727.2 L1479.7 724.7 L1483.0 723.9 L1484.3 727.2 L1486.2 720.6 L1487.5 719.0 L1487.9 698.6 L1490.3 697.0 L1492.8 696.1 L1494.7 697.8 L1495.7 704.3 L1496.8 692.0 L1499.3 692.9 L1502.6 684.7 L1505.0 677.4 L1506.6 677.4 L1507.5 668.4 L1509.9 665.1 L1513.2 661.8 L1514.8 660.5 L1516.9 666.7 L1519.2 675.7 L1522.2 668.4 L1524.6 657.8 L1526.2 657.0 L1528.7 665.9 L1532.0 667.6 L1533.9 668.4 L1535.5 660.2 L1537.7 653.7 L1540.1 655.3 L1541.8 652.9 L1544.2 652.4 L1545.8 656.1 L1548.0 658.6 L1550.2 664.3 L1552.4 659.4 L1554.5 658.2 L1556.5 666.7 L1558.9 676.2 L1561.3 674.9 L1564.6 677.4 L1567.1 670.0 L1568.7 666.7 L1569.8 654.5 L1571.1 645.2 L1573.6 647.1 L1575.2 649.6 L1576.9 661.0 L1578.5 651.2 L1580.1 650.4 L1581.8 655.3 L1584.2 652.0 L1587.5 649.6 L1588.8 639.0 L1589.9 637.0 L1592.4 640.6 L1595.6 643.1 L1597.3 645.5 L1598.9 651.7 L1600.2 629.2 L1602.2 630.0 L1604.6 631.6 L1607.1 643.9 L1608.4 630.0 L1610.3 629.2 L1612.8 634.1 L1614.1 635.8 L1615.6 639.4 L1616.7 639.4 L1617.5 630.0 L1618.8 630.0 L1620.8 633.1 L1621.9 635.2 L1622.1 658.2 L1623.5 657.1 L1625.5 651.9 L1627.6 648.8 L1629.7 646.7 L1630.8 642.5 L1632.5 640.5 L1633.9 643.6 L1635.4 647.7 L1637.0 649.8 L1638.0 647.7 L1638.8 638.4 L1640.1 641.5 L1641.2 634.2 L1642.7 634.7 L1644.8 636.3 L1646.9 635.8 L1648.5 634.7 L1649.2 644.6 L1650.5 647.2 L1652.1 644.6 L1653.2 636.8 L1654.7 637.8 L1656.8 641.0 L1658.9 644.1 L1660.5 646.2 L1662.5 646.7 L1663.8 649.8 L1665.1 648.8 L1666.2 645.1 L1667.7 643.6 L1668.3 653.0 L1668.8 661.3 L1670.0 661.3 L1671.4 655.0 L1673.0 653.0 L1674.5 649.8 L1676.1 645.7 L1677.6 641.5 L1678.7 641.5 L1679.4 637.8 L1680.0 643.6 L1680.8 639.4 L1681.8 627.9 L1683.4 624.8 L1685.5 621.7 L1687.0 619.6 L1688.6 619.4 L1689.6 624.8 L1690.7 635.2 L1691.7 638.4 L1692.8 634.2 L1693.8 627.9 L1695.4 627.9 L1697.5 626.9 L1699.0 623.8 L1700.3 622.2 L1701.6 625.9 L1702.7 636.3 L1703.7 637.3 L1704.7 629.0 L1706.3 629.0 L1707.9 631.1 L1709.4 631.1 L1711.0 625.9 L1712.0 619.6 L1712.8 607.1 L1714.1 605.5 L1715.7 605.5 L1717.2 607.1 L1718.8 610.2 L1720.4 614.4 L1721.1 606.1 L1722.5 605.0 L1724.0 607.1 L1724.9 618.6 L1726.1 620.1 L1727.7 618.6 L1729.0 616.5 L1729.8 621.7 L1730.8 624.8 L1731.8 626.9 L1732.6 616.5 L1734.5 616.0 L1735.0 629.0 L1735.5 637.3 L1736.5 636.8 L1738.1 630.0 L1739.7 623.8 L1741.2 619.6 L1742.3 625.9 L1743.6 626.4 L1744.9 620.6 L1745.9 616.0 L1748.0 614.4 L1750.1 614.2 L1752.2 614.9 L1753.7 617.5 L1755.3 620.6 L1756.3 622.2 L1757.9 621.7 L1759.5 621.2 L1761.0 621.2 L1761.8 625.9 L1762.6 630.0 L1764.2 629.0 L1764.9 638.4 L1765.7 644.6 L1766.8 646.7 L1768.3 642.5 L1769.9 636.3 L1771.4 632.1 L1773.0 629.0 L1774.6 628.5 L1775.3 632.1 L1776.1 642.5 L1778.2 646.7 L1780.3 650.9 L1781.9 655.0 L1782.6 663.4 L1783.2 670.7 L1784.3 673.8 L1785.0 666.5 L1786.6 666.5 L1787.1 673.8 L1787.6 682.7" fill="none" stroke="#02286a" stroke-width="4.6" stroke-linejoin="round" stroke-linecap="round" clip-path="url(#plot)"/>
<path d="M84.7 1189H103.7" stroke="#0372bd" stroke-width="8.8" stroke-linecap="round"/>
<path d="M516.2 1189H534.9" stroke="#02286a" stroke-width="8.8" stroke-linecap="round"/>
<text y="1201.2" font-size="34" fill="#6b7a8e" stroke="#6b7a8e" stroke-width="0.4"><tspan x="116.10" textLength="89.01" lengthAdjust="spacingAndGlyphs">MSCI</tspan> <tspan x="210.34" textLength="120.21" lengthAdjust="spacingAndGlyphs">Europe</tspan> <tspan x="336.89" textLength="138.74" lengthAdjust="spacingAndGlyphs">Defense</tspan></text>
<text y="1201.2" font-size="34" fill="#6b7a8e" stroke="#6b7a8e" stroke-width="0.4"><tspan x="546.40" textLength="88.69" lengthAdjust="spacingAndGlyphs">MSCI</tspan> <tspan x="640.34" textLength="120.21" lengthAdjust="spacingAndGlyphs">Europe</tspan> <tspan x="766.55" textLength="71.63" lengthAdjust="spacingAndGlyphs">Cap</tspan> <tspan x="844.89" textLength="108.79" lengthAdjust="spacingAndGlyphs">Goods</tspan></text>
<text y="1289.9" font-size="21.5" fill="#6b7a8e" stroke="#6b7a8e" stroke-width="0.3"><tspan x="85.38" textLength="75.54" lengthAdjust="spacingAndGlyphs">Source</tspan> <tspan x="162.24" textLength="11.32" lengthAdjust="spacingAndGlyphs">:</tspan> <tspan x="174.70" textLength="121.89" lengthAdjust="spacingAndGlyphs">Bloomberg</tspan></text>
</svg>
</body></html>
